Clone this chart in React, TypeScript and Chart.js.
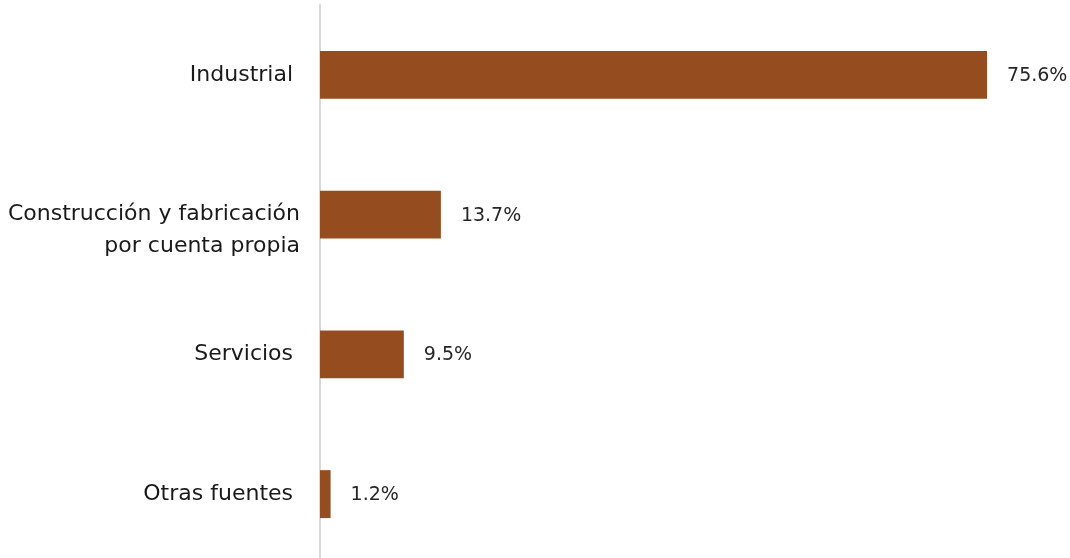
import React, { useEffect, useRef } from "react";
import { Chart, registerables } from "chart.js";
Chart.register(...registerables);

const categories: (string | string[])[] = [
  "Industrial ",
  ["", "Construcción y fabricación", "por cuenta propia"],
  "Servicios ",
  "Otras fuentes ",
];
const values = [75.6, 13.7, 9.5, 1.2];
const valueLabels = ["75.6%", "13.7%", "9.5%", "1.2%"];

const FONT = "'DejaVu Sans', sans-serif";

const labelPlugin = {
  id: "valueLabels",
  afterDatasetsDraw(chart: any) {
    const ctx = chart.ctx;
    const meta = chart.getDatasetMeta(0);
    ctx.save();
    ctx.font = `19px ${FONT}`;
    ctx.fillStyle = "#262626";
    ctx.textAlign = "left";
    ctx.textBaseline = "middle";
    meta.data.forEach((bar: any, i: number) => {
      ctx.fillText(valueLabels[i], bar.x + 20, bar.y + 1);
    });
    ctx.restore();
  },
};

export default function App() {
  const ref = useRef<HTMLCanvasElement>(null);
  useEffect(() => {
    if (!ref.current) return;
    const chart = new Chart(ref.current, {
      type: "bar",
      data: {
        labels: categories as any,
        datasets: [
          {
            data: values,
            backgroundColor: "#954D20",
            borderWidth: 0,
            categoryPercentage: 1,
            barPercentage: 0.343,
          },
        ],
      },
      options: {
        indexAxis: "y",
        animation: false,
        responsive: true,
        maintainAspectRatio: false,
        layout: { padding: { top: 5, right: 0, bottom: 0, left: 0 } },
        plugins: { legend: { display: false }, tooltip: { enabled: false } },
        scales: {
          x: {
            display: false,
            min: 0,
            max: 85,
          },
          y: {
            afterFit: (s: any) => {
              s.width = 320;
              s.paddingTop = 0;
              s.paddingBottom = 0;
            },
            grid: { display: false, drawTicks: false },
            border: { display: true, color: "#d9d9d9", width: 2 },
            ticks: {
              padding: 20,
              color: "#1a1a1a",
              font: { family: FONT, size: 22, lineHeight: 1.42 },
            },
          },
        },
      },
      plugins: [labelPlugin],
    });
    return () => chart.destroy();
  }, []);
  return (
    <div style={{ position: "fixed", left: 0, top: 0, width: 1070, height: 558, overflow: "hidden", background: "#fff" }}>
      <div style={{ position: "relative", width: 1070, height: 564 }}>
        <canvas ref={ref} />
      </div>
    </div>
  );
}
